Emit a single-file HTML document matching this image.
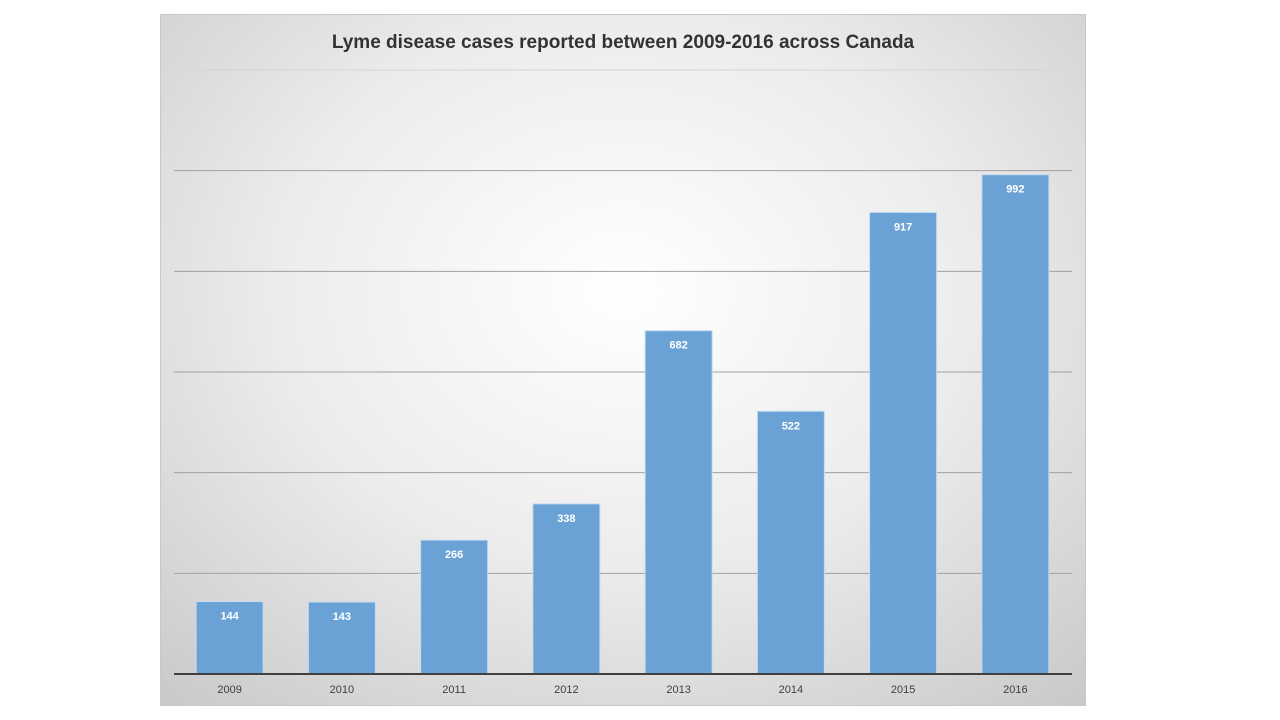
<!DOCTYPE html>
<html><head><meta charset="utf-8"><style>
body{margin:0;width:1280px;height:720px;background:#fff;overflow:hidden;font-family:"Liberation Sans",sans-serif}
#chart{position:absolute;left:160px;top:14px;width:926px;height:692px;border:1px solid #c8c8c8;box-sizing:border-box;
background:radial-gradient(ellipse 75% 80% at 50% 40%,#ffffff 0%,#ececec 50%,#c9c9c9 100%)}
</style></head><body>
<div id="chart">
<svg id="svg" width="926" height="692" style="position:absolute;left:-1px;top:-1px">
<text x="463" y="34" text-anchor="middle" font-size="19" font-weight="bold" fill="#333" font-family="Liberation Sans, sans-serif">Lyme disease cases reported between 2009-2016 across Canada</text>
</svg></div>
<script>
const categories=["2009","2010","2011","2012","2013","2014","2015","2016"];
const values=[144,143,266,338,682,522,917,992];
const gridTicks=[200,400,600,800,1000,1200];
const svg=document.getElementById('svg');
const NS='http://www.w3.org/2000/svg';
const ox=160,oy=14;
const x0=174-ox,x1=1072-ox,yBase=674-oy,yTop=70-oy,yMax=1200;
const y=v=>yBase-(yBase-yTop)*v/yMax;
const band=(x1-x0)/categories.length;
const bx=i=>x0+band*(i+0.5);
function mk(t,a){const e=document.createElementNS(NS,t);for(const k in a)e.setAttribute(k,a[k]);svg.appendChild(e);return e;}
gridTicks.forEach(t=>{const l=mk('line',{x1:x0,x2:x1,y1:y(t),y2:y(t),stroke:t===1200?'#d4d4d4':'#a0a0a0','stroke-width':1});

});
values.forEach((v,i)=>{
const w=67;
const r=mk('rect',{x:bx(i)-w/2-0.5,y:y(v),width:w,height:yBase-y(v),fill:'#6aa2d6',stroke:'#c5dcf0','stroke-width':1});


const t=mk('text',{x:bx(i)-0.5,y:y(v)+18,'text-anchor':'middle','font-size':11,'font-weight':'bold',fill:'#fff'});
t.textContent=v;


const c=mk('text',{x:bx(i)-0.5,y:yBase+19,'text-anchor':'middle','font-size':11,fill:'#404040'});
c.textContent=categories[i];


});
const ax=mk('line',{x1:x0,x2:x1,y1:yBase,y2:yBase,stroke:'#404040','stroke-width':2});


</script>
</body></html>
